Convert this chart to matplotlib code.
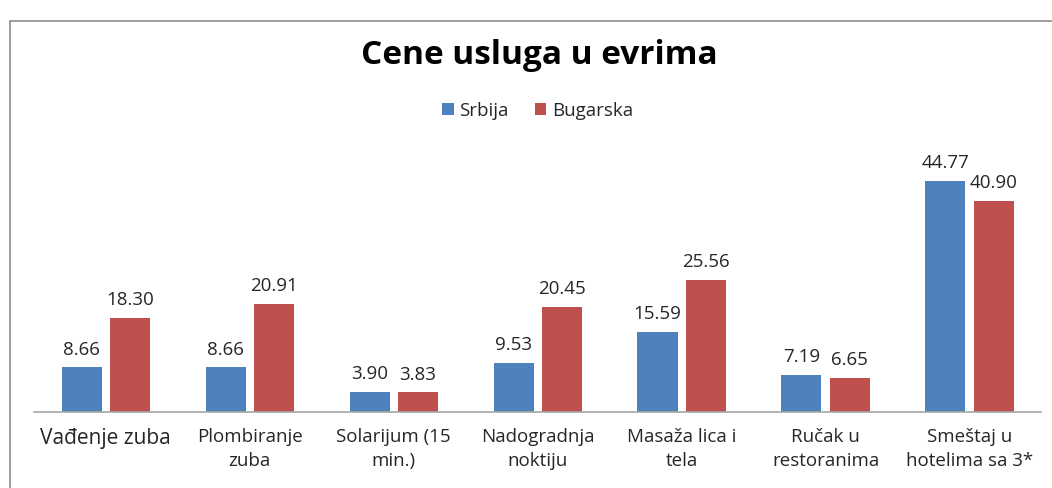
import numpy as np
import matplotlib
matplotlib.use("Agg")
import matplotlib.pyplot as plt
from matplotlib.patches import Rectangle

plt.rcParams['font.family'] = ['Open Sans', 'DejaVu Sans']

# data
categories = ['Vađenje zuba', 'Plombiranje\nzuba', 'Solarijum (15\nmin.)',
              'Nadogradnja\nnoktiju', 'Masaža lica i\ntela', 'Ručak u\nrestoranima',
              'Smeštaj u\nhotelima sa 3*']
srbija = [8.66, 8.66, 3.90, 9.53, 15.59, 7.19, 44.77]
bugarska = [18.30, 20.91, 3.83, 20.45, 25.56, 6.65, 40.90]
series_names = ['Srbija', 'Bugarska']
colors = ['#4F81BD', '#C0504D']

fig = plt.figure(figsize=(10.52, 4.89), dpi=100)
ax = fig.add_axes([0.032, 0.155, 0.958, 0.581])

x = np.arange(len(categories))
w = 0.278
off = 0.167
b1 = ax.bar(x - off, srbija, w, color=colors[0], label=series_names[0])
b2 = ax.bar(x + off, bugarska, w, color=colors[1], label=series_names[1])

for bars, vals in [(b1, srbija), (b2, bugarska)]:
    for rect, v in zip(bars, vals):
        ax.annotate('%.2f' % v, (rect.get_x() + rect.get_width() / 2, v),
                    xytext=(0, 7), textcoords='offset points',
                    ha='center', va='bottom', fontsize=13.5, color='#262626')

ax.set_xlim(-0.5, len(categories) - 0.5)
ax.set_ylim(0, 55)
ax.set_yticks([])
ax.set_xticks(x)
ax.set_xticklabels(categories, fontsize=13.5, color='#262626', linespacing=1.4)
ax.get_xticklabels()[0].set_fontsize(15)
ax.tick_params(axis='x', length=0, pad=11)
for s in ['top', 'right', 'left']:
    ax.spines[s].set_visible(False)
ax.spines['bottom'].set_color('#A6A6A6')
ax.spines['bottom'].set_linewidth(1.2)

fig.text(0.513, 0.887, 'Cene usluga u evrima', ha='center', va='center',
         fontsize=24, fontweight='bold', color='black')

ax.legend(loc='center', bbox_to_anchor=(0.511, 0.772), bbox_transform=fig.transFigure,
          ncol=2, frameon=False, fontsize=13.5, handlelength=0.6, handleheight=0.6,
          handletextpad=0.3, columnspacing=1.4, labelcolor='#262626')

# chart border
fig.patches.append(Rectangle((0.0095, -0.1), 1.2, 1.055, transform=fig.transFigure,
                             fill=False, edgecolor='#8C8C8C', linewidth=1.2))

fig.savefig('out.png', dpi=100)
